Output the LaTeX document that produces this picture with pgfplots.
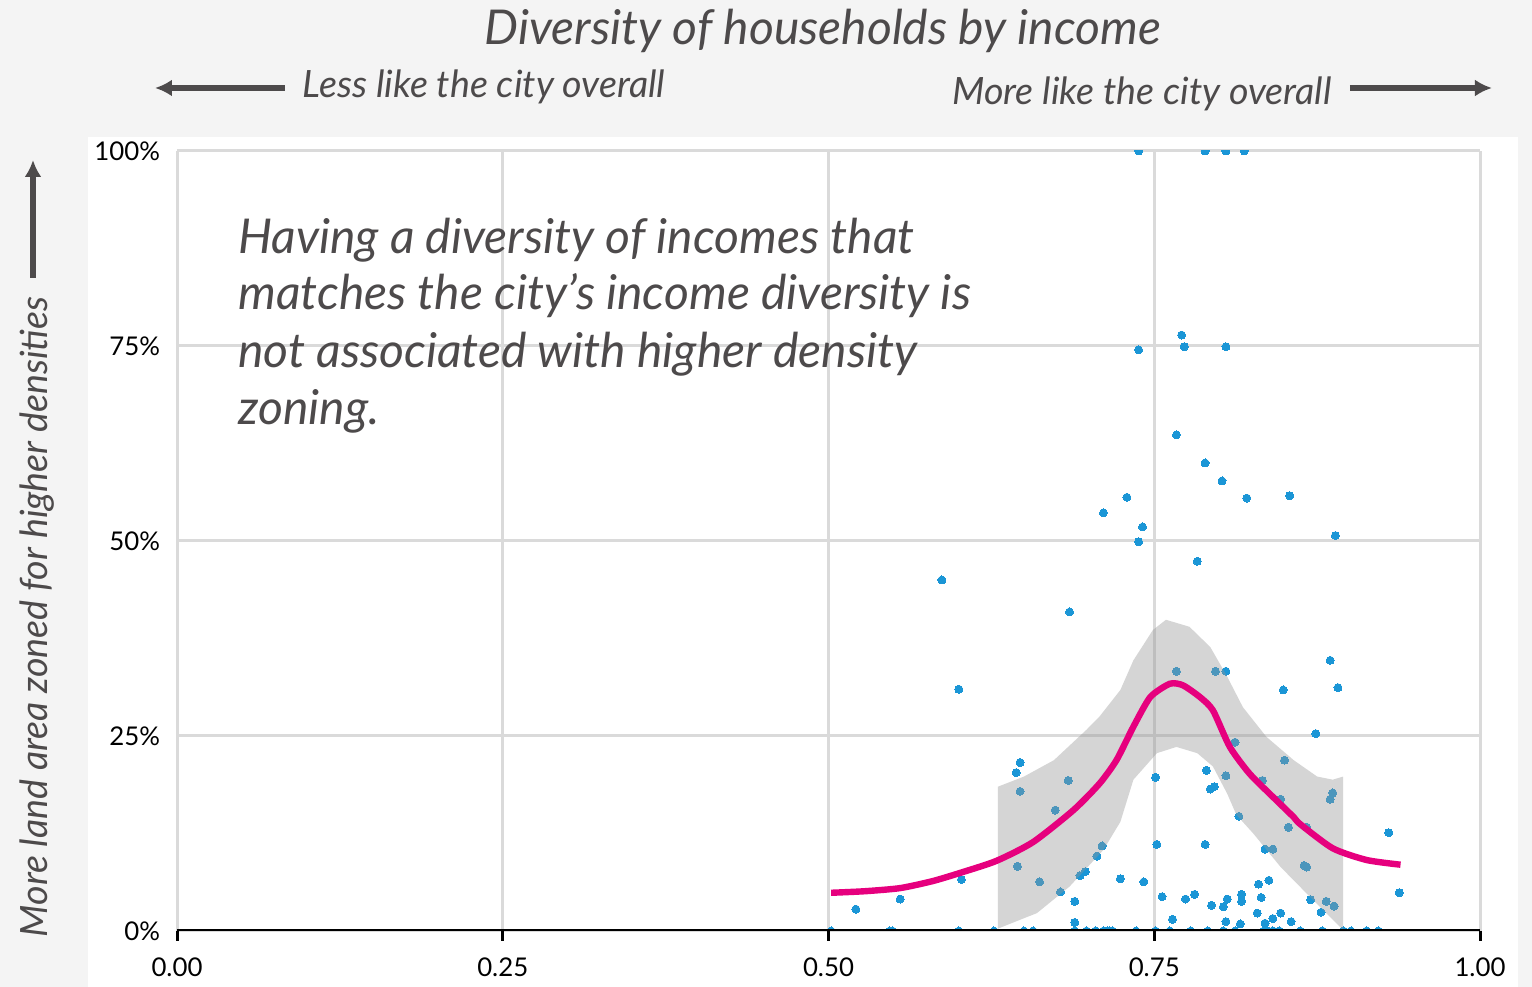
\documentclass[border=0pt]{standalone}
\usepackage{fontspec}
\setmainfont{Lato}
\usepackage{pgfplots}
\pgfplotsset{compat=1.18}
\usetikzlibrary{arrows.meta}
\definecolor{bggray}{RGB}{244,244,244}
\definecolor{gridgray}{RGB}{218,218,218}
\definecolor{dotblue}{RGB}{27,150,214}
\definecolor{bandgray}{RGB}{150,150,150}
\definecolor{magenta2}{RGB}{230,0,126}
\definecolor{txtgray}{RGB}{77,74,75}
\pgfplotstableread{
x y
0.738 100
0.789 100
0.805 100
0.819 100
0.738 74.5
0.771 76.4
0.773 74.9
0.805 74.9
0.767 63.6
0.789 60.0
0.802 57.7
0.821 55.5
0.854 55.8
0.889 50.7
0.729 55.6
0.711 53.6
0.741 51.8
0.738 49.9
0.783 47.4
0.587 45.0
0.685 40.9
0.600 31.0
0.647 21.6
0.644 20.3
0.647 17.9
0.684 19.3
0.674 15.5
0.767 33.3
0.797 33.3
0.805 33.3
0.849 30.9
0.885 34.7
0.891 31.2
0.874 25.3
0.812 24.2
0.850 21.9
0.751 19.7
0.790 20.6
0.805 19.9
0.833 19.3
0.793 18.2
0.796 18.5
0.847 16.9
0.887 17.7
0.885 16.9
0.815 14.7
0.645 8.3
0.662 6.3
0.602 6.6
0.555 4.1
0.521 2.8
0.710 10.9
0.706 9.6
0.693 7.1
0.697 7.6
0.678 5.0
0.689 3.8
0.689 1.1
0.724 6.7
0.752 11.1
0.789 11.1
0.835 10.5
0.841 10.5
0.853 13.3
0.867 13.3
0.865 8.4
0.867 8.2
0.930 12.6
0.742 6.3
0.756 4.4
0.774 4.1
0.781 4.7
0.794 3.3
0.803 3.1
0.806 4.1
0.817 4.7
0.817 3.8
0.830 6.0
0.838 6.5
0.832 4.3
0.829 2.3
0.841 1.6
0.847 2.3
0.835 1.0
0.855 1.2
0.816 0.9
0.805 1.2
0.764 1.5
0.870 4.0
0.878 2.4
0.882 3.8
0.888 3.2
0.938 4.9
0.502 0
0.547 0
0.549 0
0.600 0
0.627 0
0.650 0
0.657 0
0.689 0
0.698 0
0.705 0
0.711 0
0.714 0
0.716 0
0.718 0
0.736 0
0.751 0
0.762 0
0.778 0
0.791 0
0.803 0
0.812 0
0.834 0
0.837 0
0.841 0
0.846 0
0.862 0
0.879 0
0.895 0
0.901 0
0.913 0
0.922 0
}\points
\pgfplotstableread{
x y
0.630 18.5
0.650 19.8
0.673 21.9
0.698 25.8
0.708 27.5
0.724 30.9
0.734 34.7
0.749 38.6
0.759 39.9
0.777 39.0
0.793 36.4
0.806 32.6
0.818 28.7
0.836 24.9
0.857 21.9
0.875 19.8
0.887 19.4
0.895 19.8
0.895 0.1
0.882 2.3
0.867 4.8
0.847 8.2
0.826 12.5
0.813 14.9
0.806 17.6
0.795 21.1
0.783 22.8
0.767 23.6
0.752 22.8
0.734 19.4
0.724 14.0
0.711 10.4
0.685 5.7
0.660 2.3
0.630 0.3
}\band
\pgfplotstableread{
x y
0.502 4.9
0.528 5.1
0.555 5.5
0.580 6.4
0.602 7.5
0.629 9.0
0.657 11.4
0.688 15.5
0.708 18.9
0.721 21.9
0.734 26.2
0.747 30.0
0.762 31.7
0.772 31.5
0.785 30.0
0.795 28.3
0.808 23.6
0.823 20.2
0.841 17.2
0.857 14.6
0.862 13.7
0.887 10.6
0.913 9.1
0.939 8.5
}\curve
\begin{document}
\begin{tikzpicture}
\useasboundingbox (0,0) rectangle (766bp,493.5bp);
\fill[bggray] (0,0) rectangle (766bp,493.5bp);
\begin{scope}[x=0.5bp,y=-0.5bp,yshift=493.5bp]
\fill[white] (88,137) rectangle (1518,987);
\end{scope}
\begin{axis}[
  at={(88.5bp,28bp)}, anchor=south west,
  scale only axis, width=651.5bp, height=390bp,
  xmin=0, xmax=1, ymin=0, ymax=100,
  xtick={0,0.25,0.5,0.75,1}, xticklabels={0.00,0.25,0.50,0.75,1.00},
  ytick={0,25,50,75,100}, yticklabels={0\%,25\%,50\%,75\%,100\%},
  grid=major, major grid style={gridgray, line width=1.5bp},
  axis line style={draw=none},
  tick align=outside, xtick pos=bottom, ytick pos=left,
  major tick length=5bp,
  xtick style={black, line width=1.5bp},
  ytick style={draw=none},
  ticklabel style={font=\fontsize{12.9bp}{15bp}\selectfont, black},
  yticklabel style={anchor=east, xshift=0bp},
  xticklabel style={yshift=-5bp},
  clip marker paths=true,
]
\addplot[dotblue, only marks, mark=*, mark size=2bp, mark options={draw=dotblue, fill=dotblue, line width=0pt}] table {\points};
\addplot[draw=none, fill=bandgray, fill opacity=0.4] table {\band};
\addplot[magenta2, line width=3.2bp, smooth, tension=0.4] table {\curve};
\draw[black, line width=2bp] (axis cs:0,0) -- (axis cs:1,0);
\end{axis}
\begin{scope}[x=0.5bp,y=-0.5bp,yshift=493.5bp]
\node[anchor=base, txtgray, font=\fontsize{24bp}{28bp}\selectfont\itshape, inner sep=0] at (823,45) {Diversity of households by income};
\node[anchor=base, txtgray, font=\fontsize{18.8bp}{22bp}\selectfont\itshape, inner sep=0] at (484,98) {Less like the city overall};
\node[anchor=base, txtgray, font=\fontsize{18.8bp}{22bp}\selectfont\itshape, inner sep=0] at (1142,105) {More like the city overall};
\draw[txtgray, line width=3bp, -{Latex[length=8.5bp, width=8.5bp]}] (285,88) -- (155,88);
\draw[txtgray, line width=3bp, -{Latex[length=8.5bp, width=8.5bp]}] (1350,88) -- (1492,88);
\draw[txtgray, line width=3bp, -{Latex[length=8.5bp, width=8.5bp]}] (33,278) -- (33,160);
\node[anchor=base, rotate=90, txtgray, font=\fontsize{18.8bp}{22bp}\selectfont\itshape, inner sep=0] at (47,617) {More land area zoned for higher densities};
\begin{scope}[every node/.style={anchor=base west, txtgray, font=\fontsize{24bp}{28bp}\selectfont\itshape, inner sep=0}]
\node at (238,254) {Having a diversity of incomes that};
\node at (238,310) {matches the city’s income diversity is};
\node at (238,368) {not associated with higher density};
\node at (238,425) {zoning.};
\end{scope}
\end{scope}
\end{tikzpicture}
\end{document}
